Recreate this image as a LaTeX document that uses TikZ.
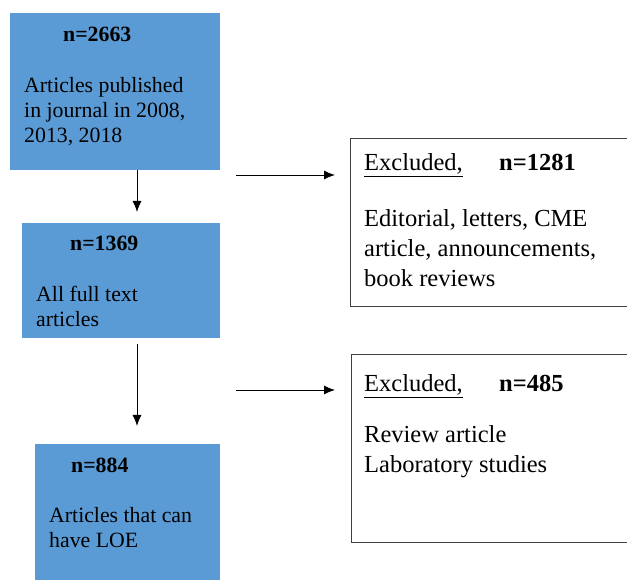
\documentclass[tikz,border=0pt]{standalone}
\usepackage{fontspec}
\setmainfont{Liberation Serif}
\usetikzlibrary{arrows.meta}
\usetikzlibrary{positioning}
\definecolor{stageblue}{RGB}{91,155,213}
\tikzset{stage/.style={fill=stageblue, draw=none, anchor=north west, inner sep=0pt},
excl/.style={draw=black!75, line width=1.4pt, anchor=north west, inner sep=0pt},
txt/.style={anchor=base west, inner sep=0pt, align=left, font=\fontsize{21.8}{25.3}\selectfont},
cnt/.style={txt, font=\fontsize{21.8}{25.3}\selectfont\bfseries},
note/.style={anchor=base west, inner sep=0pt, align=left, font=\fontsize{24.5}{30}\selectfont},
ncnt/.style={note, font=\fontsize{24.5}{30}\selectfont\bfseries},
flow/.style={-{Latex[length=11pt,width=9pt]}, line width=0.9pt}}

\begin{document}
\begin{tikzpicture}[x=1pt, y=1pt]
	\useasboundingbox (0,0) rectangle (627,580);
	\clip (0,0) rectangle (627,580);
	% left column
	\node[stage, minimum width=210pt, minimum height=157pt] (all) at (10,567) {};
	\node[stage, minimum width=198pt, minimum height=115pt] (full) at (22,357) {};
	\node[stage, minimum width=185pt, minimum height=150pt] (loe) at (35,136) {};
	\node[cnt] (nall) at (63,538) {n=2663};
	\node[txt] (tall) at (24,437) {Articles published\\in journal in 2008,\\2013, 2018};
	\node[cnt] (nfull) at (70,329) {n=1369};
	\node[txt] (tfull) at (36,253) {All full text\\articles};
	\node[cnt] (nloe) at (71,107) {n=884};
	\node[txt] (tloe) at (49,32) {Articles that can\\have LOE};
	% right column
	\node[excl, minimum width=300pt, minimum height=168pt] (exa) at (350,442) {};
	\node[excl, minimum width=300pt, minimum height=188pt] (exb) at (351,226) {};
	\node[note] (hexa) at (364,409) {\underline{Excluded,}};
	\node[ncnt] (nexa) at (499,409) {n=1281};
	\node[note] (texa) at (364,293) {Editorial, letters, CME\\article, announcements,\\book reviews};
	\node[note] (hexb) at (364,188) {\underline{Excluded,}};
	\node[ncnt] (nexb) at (499,188) {n=485};
	\node[note] (texb) at (364,107) {Review article\\Laboratory studies};
	% arrows
	\coordinate (d1) at (137,368);
	\coordinate (d2s) at (137,236);
	\coordinate (d2) at (137,154);
	\coordinate (r1s) at (236,405);
	\coordinate (r1) at (335,405);
	\coordinate (r2s) at (236,190);
	\coordinate (r2) at (335,190);
	\draw[flow] (all.south -| d1) -- (d1);
	\draw[flow] (d2s) -- (d2);
	\draw[flow] (r1s) -- (r1);
	\draw[flow] (r2s) -- (r2);
\end{tikzpicture}
\end{document}
